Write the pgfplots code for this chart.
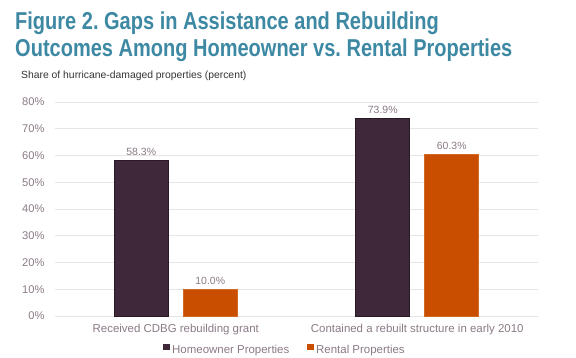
\documentclass[border=0pt]{standalone}
\usepackage{pgfplots}
\pgfplotsset{compat=1.18}
\usepackage{fontspec}
\setmainfont{Liberation Sans}
\newfontfamily\titlefont[FakeStretch=0.82]{Liberation Sans Bold}
\definecolor{titleblue}{HTML}{3D88A3}
\definecolor{txtgray}{HTML}{8A7A86}
\definecolor{homec}{HTML}{3E2839}
\definecolor{homeb}{HTML}{2A1A27}
\definecolor{rentc}{HTML}{CA4E00}
\definecolor{gridc}{HTML}{E6E6E6}
\frenchspacing
\begin{document}
\begin{tikzpicture}
\useasboundingbox (0,0) rectangle (576bp,358bp);
\node[anchor=base west,inner sep=0,text=titleblue,font=\fontsize{24.5}{27}\titlefont] at (15bp,328bp) {Figure 2. Gaps in Assistance and Rebuilding};
\node[anchor=base west,inner sep=0,text=titleblue,font=\fontsize{24.5}{27}\titlefont] at (15bp,301bp) {Outcomes Among Homeowner vs. Rental Properties};
\node[anchor=base west,inner sep=0,text=black!80,font=\fontsize{10.4}{12}\selectfont] at (21bp,279bp) {Share of hurricane-damaged properties (percent)};
\begin{axis}[
  at={(55bp,42bp)}, anchor=south west,
  scale only axis, width=483bp, height=214bp,
  xmin=-0.5, xmax=1.5, ymin=0, ymax=80,
  axis line style={draw=none},
  ytick={0,10,...,80},
  yticklabel={\pgfmathprintnumber{\tick}\%},
  xtick={0,1},
  xticklabels={Received CDBG rebuilding grant, Contained a rebuilt structure in early 2010},
  major tick length=0pt,
  ymajorgrids, grid style={draw=gridc, line width=0.8pt},
  yticklabel style={text=txtgray, font=\fontsize{11.2}{12}\selectfont, xshift=-7bp},
  xticklabel style={text=txtgray, font=\fontsize{11.5}{13}\selectfont, yshift=-5bp},
  /pgf/number format/assume math mode=true,
  ybar, bar width=54bp,
  nodes near coords={\pgfmathprintnumber[fixed,fixed zerofill,precision=1]{\pgfplotspointmeta}\%},
  nodes near coords style={text=txtgray, font=\fontsize{10.5}{12}\selectfont, anchor=south, yshift=1bp},
  clip=false,
]
\addplot[fill=homec, draw=homeb, line width=0.6pt, bar shift=-34.5bp] coordinates {(0,58.3) (1,73.9)};
\addplot[fill=rentc, draw=rentc!85!white, line width=0.6pt, bar shift=34.5bp] coordinates {(0,10.0) (1,60.3)};
\end{axis}
\fill[homec] (163bp,7.5bp) rectangle ++(6.5bp,6.5bp);
\node[anchor=base west,inner sep=0,text=txtgray,font=\fontsize{11.5}{13}\selectfont] at (172bp,5bp) {Homeowner Properties};
\fill[rentc] (307bp,7.5bp) rectangle ++(6.5bp,6.5bp);
\node[anchor=base west,inner sep=0,text=txtgray,font=\fontsize{11.5}{13}\selectfont] at (316bp,5bp) {Rental Properties};
\end{tikzpicture}
\end{document}
